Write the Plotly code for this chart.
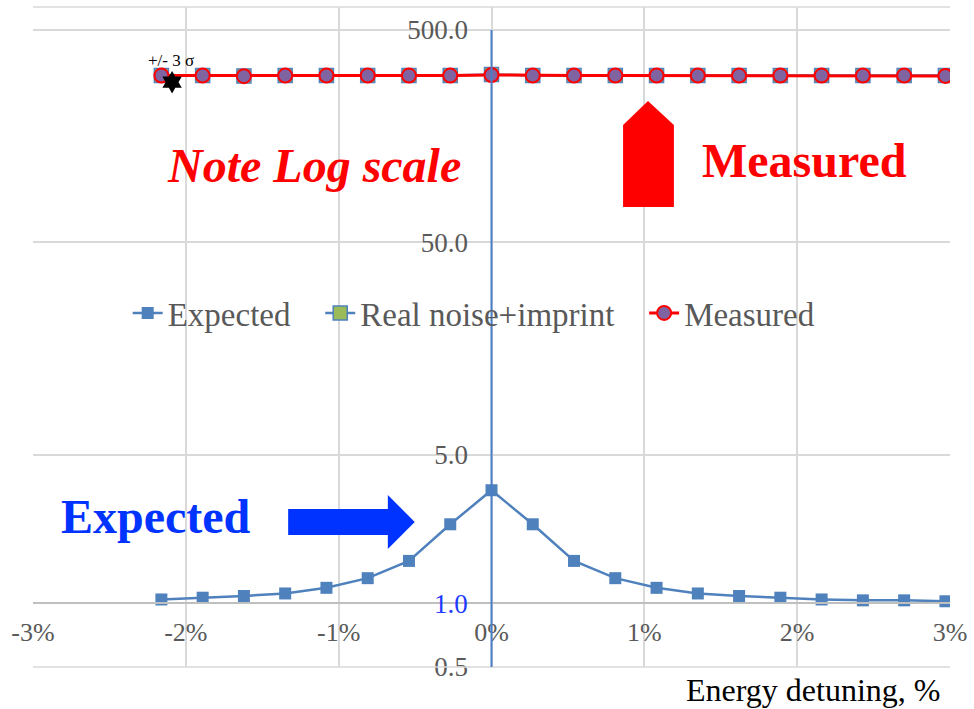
import math
import plotly.graph_objects as go

# Energy detuning (%) of each scan point
detuning = [-2.16, -1.89, -1.62, -1.35, -1.08, -0.81, -0.54, -0.27, 0.0,
            0.27, 0.54, 0.81, 1.08, 1.35, 1.62, 1.89, 2.16, 2.43, 2.70, 2.97]

expected = [1.04, 1.06, 1.08, 1.11, 1.18, 1.31, 1.58, 2.35, 3.4,
            2.35, 1.58, 1.31, 1.18, 1.11, 1.08, 1.06, 1.04, 1.03, 1.03, 1.02]

real_noise_imprint = [305, 305, 304, 305, 305, 305, 305, 305, 309,
                      305, 305, 305, 305, 305, 305, 305, 305, 305, 305, 305]

measured = [305, 305, 303, 305, 305, 305, 305, 305, 307,
            305, 305, 305, 305, 305, 305, 305, 305, 305, 305, 304]

# +/- 3 sigma marker
sigma_x = [-2.09]
sigma_y = [284]

x_ticks = [-3, -2, -1, 0, 1, 2, 3]
x_tick_text = ["-3%", "-2%", "-1%", "0%", "1%", "2%", "3%"]
y_ticks = [0.5, 5, 50, 500]
y_tick_text = ["0.5", "5.0", "50.0", "500.0"]

FONT = "Liberation Serif"
GRAY = "#595959"
GRID = "#D9D9D9"
BLUE = "#4F81BD"
NBSP = "\u00a0"

# Page geometry (pixels)
W, H = 974, 709
L, R, T, B = 33, 21, 7, 42
PW, PH = W - L - R, H - T - B

y_lo = math.log10(0.5)
y_hi = math.log10(500) + 23 / 212.3
span = y_hi - y_lo


def px(x):
    return (x - L) / PW


def py(y):
    return (H - B - y) / PH


def ypaper(v):
    return (math.log10(v) - y_lo) / span


fig = go.Figure()

fig.add_trace(go.Scatter(
    x=detuning, y=expected, name="Expected" + NBSP * 3, mode="lines+markers",
    line=dict(color=BLUE, width=2.5),
    marker=dict(symbol="square", size=12, color=BLUE),
))
fig.add_trace(go.Scatter(
    x=detuning, y=real_noise_imprint, name="Real noise+imprint" + NBSP * 3,
    mode="lines+markers",
    line=dict(color=BLUE, width=2.5),
    marker=dict(symbol="square", size=14, color="#9BBB59",
                line=dict(color=BLUE, width=1.5)),
))
fig.add_trace(go.Scatter(
    x=detuning, y=measured, name="Measured", mode="lines+markers",
    line=dict(color="#FF0000", width=3),
    marker=dict(symbol="circle", size=14, color="#8064A2",
                line=dict(color="#FF0000", width=2)),
))
fig.add_trace(go.Scatter(
    x=sigma_x, y=sigma_y, mode="markers", showlegend=False,
    marker=dict(symbol="hexagram", size=17, color="black"),
))

shapes = [
    # top and bottom borders of the plot area
    dict(type="line", xref="paper", yref="paper", x0=0, x1=1, y0=1, y1=1,
         line=dict(color=GRID, width=1.5)),
    dict(type="line", xref="paper", yref="paper", x0=0, x1=1, y0=0, y1=0,
         line=dict(color=GRID, width=1.5)),
    # vertical axis drawn through 0 %
    dict(type="line", xref="x", yref="paper", x0=0, x1=0, y0=0, y1=ypaper(500),
         line=dict(color="#4A7EC7", width=2)),
    # red up arrow
    dict(type="path", xref="paper", yref="paper",
         path="M {} {} L {} {} L {} {} L {} {} L {} {} Z".format(
             px(625), py(207), px(625), py(125), px(650), py(101),
             px(676), py(125), px(676), py(207)),
         fillcolor="#FF0000", line=dict(width=0)),
    # blue right arrow
    dict(type="path", xref="paper", yref="paper",
         path="M {} {} L {} {} L {} {} L {} {} L {} {} L {} {} L {} {} Z".format(
             px(289), py(509), px(389), py(509), px(389), py(495),
             px(416), py(522), px(389), py(549), px(389), py(535),
             px(289), py(535)),
         fillcolor="#0033FF", line=dict(width=0)),
]

annotations = [
    dict(text="<b><i>Note Log scale</i></b>", x=px(315), y=py(165),
         font=dict(family=FONT, size=48, color="#FF0000")),
    dict(text="<b>Measured</b>", x=px(807), y=py(160),
         font=dict(family=FONT, size=48, color="#FF0000")),
    dict(text="<b>Expected</b>", x=px(156), y=py(516),
         font=dict(family=FONT, size=48, color="#0033FF")),
    dict(text="1.0", x=px(471), y=py(604), xanchor="right",
         font=dict(family=FONT, size=27, color="#1F3AFF")),
    dict(text="+/- 3 σ", x=px(171), y=py(60),
         font=dict(family=FONT, size=17, color="black")),
    dict(text="Energy detuning, %", x=px(945), y=py(690), xanchor="right",
         font=dict(family=FONT, size=32, color="black")),
]
for a in annotations:
    a.update(xref="paper", yref="paper", showarrow=False)
    a.setdefault("xanchor", "center")
    a.setdefault("yanchor", "middle")

fig.update_layout(
    width=W, height=H,
    margin=dict(l=L, r=R, t=T, b=B, pad=0),
    paper_bgcolor="white", plot_bgcolor="white",
    font=dict(family=FONT, color=GRAY),
    showlegend=True,
    legend=dict(orientation="h", x=px(128), xanchor="left", y=py(313), yanchor="middle",
                font=dict(family=FONT, size=33, color=GRAY),
                bgcolor="rgba(0,0,0,0)", itemwidth=30, tracegroupgap=0),
    xaxis=dict(range=[-3, 3], tickvals=x_ticks, ticktext=x_tick_text,
               showgrid=True, gridcolor=GRID, gridwidth=1.5,
               zeroline=False, showline=True, linecolor="#BFBFBF", linewidth=1.5,
               anchor="free", position=ypaper(1.0),
               ticks="outside", ticklen=6, tickcolor="rgba(0,0,0,0)",
               tickfont=dict(family=FONT, size=26, color=GRAY)),
    yaxis=dict(type="log", range=[y_lo, y_hi], tickvals=y_ticks, ticktext=y_tick_text,
               showgrid=True, gridcolor=GRID, gridwidth=1.5,
               zeroline=False, showline=False,
               anchor="free", position=0.5,
               ticks="outside", ticklen=18, tickcolor="rgba(0,0,0,0)",
               tickfont=dict(family=FONT, size=27, color=GRAY)),
    shapes=shapes,
    annotations=annotations,
)

fig.write_html("out.html")
